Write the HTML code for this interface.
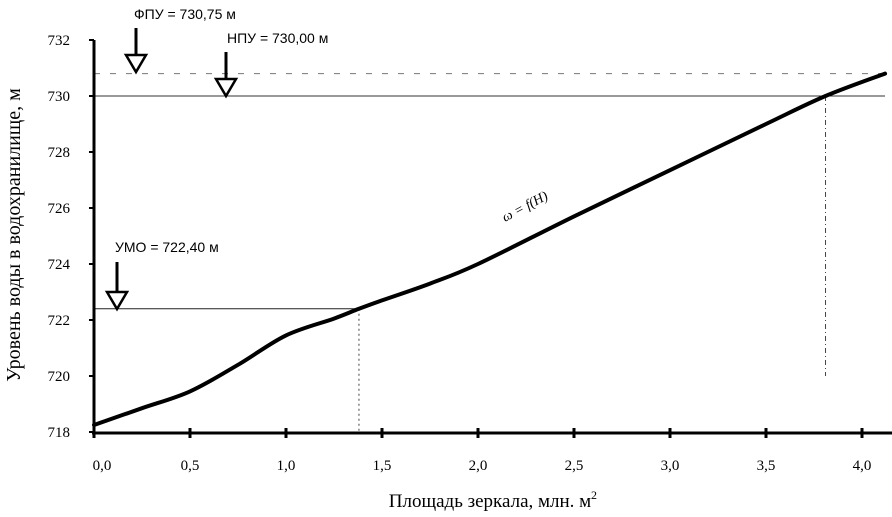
<!DOCTYPE html>
<html><head><meta charset="utf-8"><style>
body{margin:0;background:#fff;}
svg{display:block;font-family:"Liberation Serif",serif;}
</style></head><body>
<svg id="c" width="892" height="517" viewBox="0 0 892 517">
<g id="g"></g>
</svg>
<script>
const xTicks=[0,0.5,1.0,1.5,2.0,2.5,3.0,3.5,4.0];
const xTickLabels=["0,0","0,5","1,0","1,5","2,0","2,5","3,0","3,5","4,0"];
const yTicks=[718,720,722,724,726,728,730,732];
const areaValues=[0,0.25,0.5,0.75,1.0,1.25,1.38,1.5,1.75,2.0,2.5,3.0,3.5,3.81,4.12];
const levelValues=[718.25,718.85,719.45,720.4,721.45,722.05,722.4,722.7,723.3,724.0,725.7,727.35,729.0,730.0,730.8];
const FPU=730.8, NPU=730.0, UMO=722.4, umoArea=1.38, npuArea=3.81;
const NS="http://www.w3.org/2000/svg";
const g=document.getElementById('g');
const X=v=>94+192*v;
const Y=v=>432-28*(v-718);
function el(t,a,txt){const e=document.createElementNS(NS,t);for(const k in a)e.setAttribute(k,a[k]);if(txt!=null)e.textContent=txt;g.appendChild(e);return e;}
let e;
e=el('line',{x1:X(0),y1:Y(FPU),x2:X(4.12),y2:Y(FPU),stroke:'#777','stroke-width':1,'stroke-dasharray':'6 10'});


e=el('line',{x1:X(0),y1:Y(NPU),x2:X(4.12),y2:Y(NPU),stroke:'#333','stroke-width':1});


e=el('line',{x1:X(0),y1:Y(UMO),x2:X(umoArea),y2:Y(UMO),stroke:'#222','stroke-width':1});


e=el('line',{x1:X(umoArea),y1:Y(UMO),x2:X(umoArea),y2:Y(718),stroke:'#444','stroke-width':1,'stroke-dasharray':'2 3'});


e=el('line',{x1:X(npuArea),y1:Y(NPU),x2:X(npuArea),y2:376,stroke:'#444','stroke-width':1,'stroke-dasharray':'5 3 1 3'});


e=el('line',{x1:94,y1:40,x2:94,y2:433,stroke:'#000','stroke-width':3});


e=el('line',{x1:92,y1:433,x2:892,y2:433,stroke:'#000','stroke-width':3});


xTicks.forEach((v,i)=>{
 e=el('line',{x1:X(v),y1:428,x2:X(v),y2:438,stroke:'#000','stroke-width':3});
 
 
 e=el('text',{x:X(v)+(i==0?8:0),y:470,'font-size':15,'text-anchor':'middle'},xTickLabels[i]);
 
 
});
yTicks.forEach(v=>{
 e=el('line',{x1:89,y1:Y(v),x2:94,y2:Y(v),stroke:'#000','stroke-width':2});
 
 
 e=el('text',{x:70,y:Y(v)+5,'font-size':15,'text-anchor':'end'},String(v));
 
 
});
let d='';
const pts=areaValues.map((a,i)=>[X(a),Y(levelValues[i])]);
d='M'+pts[0][0]+','+pts[0][1];
for(let i=0;i<pts.length-1;i++){
 const p0=pts[Math.max(i-1,0)],p1=pts[i],p2=pts[i+1],p3=pts[Math.min(i+2,pts.length-1)];
 const c1=[p1[0]+(p2[0]-p0[0])/6,p1[1]+(p2[1]-p0[1])/6],c2=[p2[0]-(p3[0]-p1[0])/6,p2[1]-(p3[1]-p1[1])/6];
 d+=` C${c1[0]},${c1[1]} ${c2[0]},${c2[1]} ${p2[0]},${p2[1]}`;
}
e=el('path',{d:d,fill:'none',stroke:'#000','stroke-width':4,'stroke-linecap':'round'});


e=el('text',{x:505,y:222,'font-size':14,'font-style':'italic',transform:'rotate(-28 505 222)'},'ω = f(H)');


function arrow(x,y0,y1,name){
 const a=el('g',{});
 
 
 const l=document.createElementNS(NS,'line');
 l.setAttribute('x1',x);l.setAttribute('y1',y0);l.setAttribute('x2',x);l.setAttribute('y2',y1);
 l.setAttribute('stroke','#000');l.setAttribute('stroke-width',3);a.appendChild(l);
 const p=document.createElementNS(NS,'path');
 p.setAttribute('d',`M${x-10},${y1-17} L${x+10},${y1-17} L${x},${y1} Z`);
 p.setAttribute('fill','#fff');p.setAttribute('stroke','#000');p.setAttribute('stroke-width',2.5);a.appendChild(p);
}
arrow(136,28,72,'fpu-arrow');
arrow(226,52,96,'npu-arrow');
arrow(117,262,309,'umo-arrow');
e=el('text',{x:134,y:19,'font-size':14,'font-family':'Liberation Sans, sans-serif'},'ФПУ = 730,75 м');


e=el('text',{x:227,y:43,'font-size':14,'font-family':'Liberation Sans, sans-serif'},'НПУ = 730,00 м');


e=el('text',{x:115,y:252,'font-size':14,'font-family':'Liberation Sans, sans-serif'},'УМО = 722,40 м');


e=el('text',{x:490,y:507,'font-size':19,'text-anchor':'middle'},'Площадь зеркала, млн. м');


e=el('text',{x:591,y:499,'font-size':12},'2');


e=el('text',{x:20,y:235,'font-size':20,'text-anchor':'middle',transform:'rotate(-90 20 235)'},'Уровень воды в водохранилище, м');


</script>
</body></html>
